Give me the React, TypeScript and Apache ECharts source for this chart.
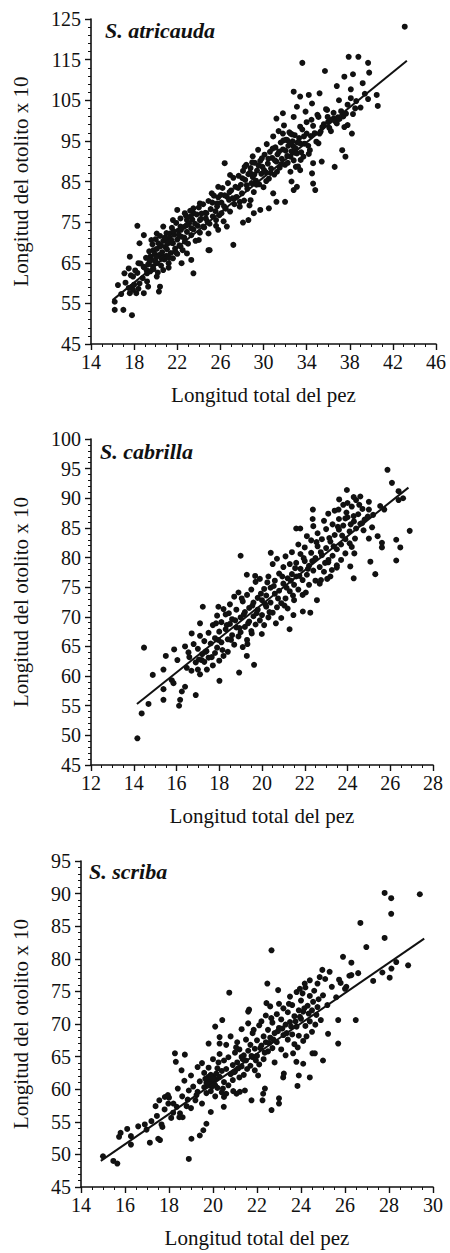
import React, { useEffect, useRef } from "react";
import * as echarts from "echarts";

// ---------- DATA ----------
const speciesNames = ["S. atricauda", "S. cabrilla", "S. scriba"];
const xAxisTitle = "Longitud total del pez";
const yAxisTitle = "Longitud del otolito x 10";

// S. atricauda points [total length, otolith length x 10]
const atricaudaPts: number[][] = [
  [43.1, 123.1], [37.9, 115.7], [38.8, 115.7], [33.6, 114.2], [35.7, 112.2], [39.7, 114.2], [39.8, 111.8],
  [38.3, 111.4], [39.2, 109.2], [37.5, 110.8], [36.8, 108.5], [38.1, 107.7], [40.5, 106.3], [39.7, 105.3],
  [40.6, 103.6], [32.8, 107.1], [33.4, 105.9], [34.2, 106.3], [35.2, 106.7], [34.5, 104.2], [35.9, 102.6],
  [37.0, 105.0], [38.1, 105.5], [38.5, 103.0], [33.1, 103.4], [33.9, 102.2], [35.0, 101.4], [36.5, 100.5],
  [37.4, 101.0], [36.0, 99.7], [36.8, 99.3], [37.8, 98.9], [38.2, 96.8], [37.3, 92.7], [37.6, 91.1],
  [36.6, 88.6], [35.4, 89.9], [34.6, 89.5], [34.5, 87.0], [34.6, 84.5], [34.8, 82.9], [35.1, 94.4],
  [34.3, 92.7], [34.0, 96.8], [35.2, 96.8], [33.4, 98.5], [32.8, 100.9], [31.2, 100.5], [31.8, 101.8],
  [32.5, 96.8], [31.8, 96.8], [32.2, 95.2], [32.8, 93.6], [33.4, 94.4], [33.1, 91.9], [33.7, 91.1],
  [32.5, 91.1], [33.0, 88.6], [33.4, 87.8], [32.6, 85.0], [33.1, 83.7], [32.8, 82.9], [32.0, 80.0],
  [31.2, 80.0], [30.9, 82.1], [30.5, 78.4], [28.1, 74.9], [28.6, 75.5], [27.2, 69.4], [29.7, 78.0],
  [29.1, 77.2], [28.8, 80.4], [27.8, 80.0], [26.6, 81.3], [26.9, 86.6], [26.4, 89.5], [25.8, 83.7],
  [25.2, 82.1], [25.7, 79.6], [26.1, 77.2], [25.6, 75.5], [26.6, 73.9], [25.8, 73.1], [24.7, 77.2],
  [24.1, 79.6], [24.4, 73.9], [24.9, 72.2], [23.5, 77.2], [22.9, 75.5], [23.3, 73.5], [22.3, 73.9],
  [22.0, 78.0], [21.6, 75.5], [22.7, 77.2], [23.5, 78.4], [24.1, 75.5], [24.0, 70.6], [24.9, 68.1],
  [23.3, 65.7], [23.5, 62.4], [22.4, 64.9], [22.9, 67.3], [22.3, 69.0], [21.6, 69.8], [21.0, 70.6],
  [21.3, 72.2], [20.7, 73.9], [20.1, 72.2], [18.3, 74.1], [18.9, 71.8], [18.5, 69.8], [19.6, 70.6],
  [20.4, 69.0], [19.8, 68.1], [19.5, 66.5], [20.1, 64.9], [20.7, 66.5], [21.2, 64.9], [20.7, 63.2],
  [20.1, 61.6], [20.4, 59.1], [20.3, 57.9], [19.2, 62.4], [18.9, 64.0], [18.4, 64.9], [18.5, 59.9],
  [18.9, 57.5], [19.3, 59.1], [17.9, 61.6], [17.6, 66.5], [17.5, 63.6], [17.8, 59.1], [17.6, 57.5],
  [17.9, 58.3], [18.2, 57.5], [16.5, 59.5], [16.2, 55.4], [16.2, 53.4], [17.0, 53.4], [17.8, 52.1],
  [25.0, 68.1], [17.2, 60.1], [17.5, 58.8], [17.7, 61.9], [18.0, 59.6], [18.1, 63.1], [18.4, 58.6],
  [16.8, 57.3], [17.1, 62.4],
  [18.3, 62.5], [18.6, 64.8], [18.8, 61.2], [18.9, 63.9], [19.1, 66.2], [19.2, 60.4], [19.3, 64.6],
  [19.4, 67.8], [19.5, 62.9], [19.6, 65.7], [19.7, 69.5], [19.8, 63.4], [19.9, 67.1], [20.0, 70.8],
  [20.0, 65.2], [20.1, 68.4], [20.2, 62.6], [20.3, 66.9], [20.4, 71.6], [20.5, 69.2], [20.5, 64.3],
  [20.6, 67.6], [20.7, 70.4], [20.8, 65.8], [20.9, 68.9], [21.0, 72.3], [21.0, 66.7], [21.1, 69.7],
  [21.2, 63.8], [21.3, 71.1], [21.4, 67.4], [21.5, 73.6], [21.5, 69.9], [21.6, 66.1], [21.7, 71.9],
  [21.8, 68.5], [21.9, 74.8], [22.0, 70.7], [22.0, 67.2], [22.1, 72.9], [22.2, 69.3], [22.3, 75.9],
  [22.4, 71.4], [22.5, 68.1], [22.6, 73.8], [22.7, 70.2], [22.8, 76.6], [22.9, 72.6], [23.0, 69.7],
  [23.1, 74.7], [23.2, 77.8], [23.3, 71.8], [23.4, 75.6], [23.5, 73.2], [23.7, 70.4], [23.8, 76.9],
  [23.9, 74.1], [24.0, 78.6], [24.1, 72.4], [24.2, 75.8], [24.4, 79.4], [24.5, 73.7], [24.6, 77.3],
  [24.8, 75.1], [24.9, 80.2], [25.0, 74.6], [25.1, 78.2], [25.3, 76.4], [25.4, 81.5], [25.6, 74.1],
  [25.7, 78.9], [25.8, 81.1], [25.9, 76.7], [26.1, 79.8], [26.2, 83.4], [26.3, 75.2], [26.4, 81.6],
  [26.5, 78.3], [26.7, 84.6], [26.8, 80.5], [26.9, 77.6], [27.0, 82.8], [27.2, 85.9], [27.3, 79.4],
  [27.4, 83.7], [27.5, 81.2], [27.7, 86.4], [27.8, 78.8], [27.9, 84.2], [28.0, 82.1], [28.1, 87.6],
  [28.2, 80.3], [28.3, 85.4], [28.4, 89.1], [28.5, 83.2], [28.6, 86.8], [28.7, 79.1], [28.8, 88.3],
  [28.9, 84.6], [29.0, 91.2], [29.0, 86.1], [29.1, 82.4], [29.2, 89.6], [29.3, 85.2], [29.4, 87.7],
  [29.5, 92.8], [29.6, 84.3], [29.7, 90.1], [29.8, 86.9], [29.9, 88.6], [30.0, 83.6], [30.1, 91.6],
  [30.2, 87.3], [30.3, 94.2], [30.4, 89.4], [30.5, 85.7], [30.6, 92.3], [30.7, 88.2], [30.8, 90.8],
  [30.9, 96.1], [31.0, 86.7], [31.1, 93.4], [31.2, 89.9], [31.3, 91.7], [31.4, 97.4], [31.5, 88.4],
  [31.6, 94.6], [31.7, 90.6], [31.8, 92.9], [31.9, 98.8], [32.0, 89.1], [32.1, 95.3], [32.2, 91.3],
  [32.3, 93.8], [32.4, 97.1], [32.5, 87.4], [32.6, 92.4], [32.7, 94.9], [32.8, 90.2], [32.9, 96.4],
  [33.0, 93.1], [33.2, 88.7], [33.3, 95.7], [33.5, 92.2], [33.6, 97.8], [33.8, 94.3], [34.0, 99.6],
  [34.2, 91.8], [34.4, 96.2], [34.6, 98.7], [34.9, 94.8], [35.1, 100.9], [35.3, 97.3], [35.6, 99.1],
  [35.8, 102.8], [36.1, 98.2], [36.3, 100.2], [36.5, 101.9], [36.7, 99.7], [36.9, 100.8], [37.2, 102.3],
  [37.5, 98.4], [37.8, 103.9], [38.3, 101.6], [38.6, 104.8], [39.0, 103.2], [39.4, 106.6],
  [19.15, 63.2], [19.45, 65.3], [19.75, 64.1], [20.05, 66.3], [20.25, 69.8], [20.55, 66.0], [20.85, 71.2],
  [21.05, 68.3], [21.25, 66.2], [21.45, 70.6], [21.65, 72.8], [21.85, 67.6], [22.15, 71.8], [22.35, 73.1],
  [22.65, 71.2], [22.85, 74.2], [23.25, 76.4], [23.65, 74.6], [24.25, 77.1], [24.65, 75.9], [25.25, 79.8],
  [25.55, 77.7], [26.05, 81.7], [26.35, 78.9], [26.85, 82.4], [27.15, 80.9], [27.65, 83.4], [28.05, 85.8],
  [28.25, 88.6], [28.45, 84.1], [28.75, 87.2], [28.95, 89.7], [29.15, 86.7], [29.35, 84.2], [29.55, 88.9],
  [29.85, 90.7], [30.05, 87.8], [30.25, 85.1], [30.45, 90.6], [30.65, 87.1], [30.85, 93.1], [31.05, 90.2],
  [31.25, 87.4], [31.45, 92.4], [31.65, 89.3], [31.85, 95.1], [32.05, 92.6], [32.25, 89.6], [32.45, 94.4],
  [32.65, 96.6], [32.85, 92.1], [33.15, 94.6], [33.45, 90.3], [33.75, 96.1], [34.15, 93.8], [34.45, 100.2],
  [34.75, 96.9], [35.45, 98.4], [35.95, 100.9], [36.25, 97.4], [37.05, 100.4], [37.65, 101.7],
];

// S. cabrilla points
const cabrillaPts: number[][] = [
  [14.17, 49.5], [14.37, 53.7], [14.48, 64.8], [14.69, 55.3], [14.89, 60.2], [15.39, 56.0], [15.39, 57.8],
  [15.5, 63.4], [15.39, 61.1], [15.78, 59.3], [15.86, 58.8], [15.89, 64.5], [16.04, 62.7], [16.12, 55.0],
  [16.17, 56.0], [16.25, 57.4], [16.4, 58.2], [16.48, 61.4], [16.4, 65.0], [16.56, 64.0], [16.9, 56.8],
  [16.71, 67.2], [17.1, 60.3], [17.18, 62.7], [17.23, 71.7], [17.1, 68.9], [17.42, 61.1], [18.01, 59.2],
  [17.96, 71.7], [18.93, 60.6], [19.0, 80.3], [19.29, 77.1], [19.68, 76.9], [19.63, 61.9], [19.29, 63.4],
  [19.32, 65.4], [19.52, 67.2], [19.99, 67.1], [20.41, 80.8], [21.29, 67.9], [21.47, 70.3], [21.91, 70.9],
  [22.26, 70.7], [22.57, 72.8], [21.6, 84.9], [21.79, 84.9], [22.37, 86.5], [22.38, 88.1], [23.58, 88.1],
  [23.61, 89.8], [23.97, 91.4], [24.29, 90.2], [24.6, 90.3], [24.0, 89.2], [24.1, 82.4], [24.13, 78.5],
  [24.32, 80.7], [24.29, 76.5], [25.0, 83.2], [25.07, 79.3], [25.3, 77.2], [25.41, 83.6], [25.61, 81.7],
  [25.61, 82.5], [25.53, 88.7], [25.72, 88.1], [25.87, 94.8], [26.08, 92.6], [26.28, 83.0], [26.28, 79.5],
  [26.47, 81.7], [26.39, 91.2], [26.6, 90.0], [26.39, 89.7], [26.91, 84.5], [24.68, 85.8], [25.0, 89.4],
  [24.29, 87.0], [23.9, 86.6], [23.5, 78.7], [23.27, 77.9], [23.11, 79.6], [22.76, 76.2],
  [16.6, 63.2], [16.7, 60.9], [16.8, 65.4], [16.9, 62.3], [17.0, 64.6], [17.0, 61.1], [17.1, 66.8],
  [17.2, 63.7], [17.3, 65.9], [17.3, 62.4], [17.4, 64.2], [17.5, 67.3], [17.5, 63.1], [17.6, 65.5],
  [17.7, 68.6], [17.7, 61.8], [17.8, 66.4], [17.8, 63.9], [17.9, 70.2], [17.9, 64.8], [18.0, 67.5],
  [18.0, 62.6], [18.1, 69.1], [18.1, 65.7], [18.2, 71.3], [18.2, 63.4], [18.3, 67.9], [18.3, 70.4],
  [18.4, 66.2], [18.4, 64.1], [18.5, 68.8], [18.5, 72.1], [18.6, 66.9], [18.6, 69.6], [18.7, 73.4],
  [18.7, 65.3], [18.8, 68.2], [18.8, 71.2], [18.9, 66.7], [18.9, 74.1], [19.0, 69.9], [19.0, 67.4],
  [19.1, 72.6], [19.1, 64.9], [19.2, 70.8], [19.2, 68.3], [19.3, 73.7], [19.3, 66.1], [19.4, 71.5],
  [19.4, 69.2], [19.5, 74.6], [19.5, 67.6], [19.6, 72.4], [19.6, 70.1], [19.7, 75.9], [19.7, 68.7],
  [19.8, 73.2], [19.8, 71.2], [19.9, 69.4], [19.9, 76.4], [20.0, 72.8], [20.0, 70.3], [20.1, 74.7],
  [20.1, 68.6], [20.2, 73.6], [20.2, 71.7], [20.3, 76.8], [20.3, 69.9], [20.4, 74.9], [20.4, 72.4],
  [20.5, 78.9], [20.5, 70.7], [20.6, 73.9], [20.6, 76.1], [20.7, 71.6], [20.7, 79.8], [20.8, 74.4],
  [20.8, 77.3], [20.9, 72.3], [20.9, 69.8], [21.0, 75.6], [21.0, 78.4], [21.1, 73.1], [21.1, 80.2],
  [21.2, 76.5], [21.2, 71.4], [21.3, 78.9], [21.3, 74.3], [21.4, 77.2], [21.4, 80.9], [21.5, 75.4],
  [21.5, 72.8], [21.6, 79.1], [21.6, 76.8], [21.7, 82.2], [21.7, 74.6], [21.8, 78.1], [21.8, 80.6],
  [21.9, 76.2], [21.9, 73.7], [22.0, 79.4], [22.0, 81.7], [22.1, 77.1], [22.1, 83.6], [22.2, 78.6],
  [22.2, 75.4], [22.3, 80.8], [22.3, 82.9], [22.4, 77.8], [22.4, 85.3], [22.5, 79.9], [22.5, 76.1],
  [22.6, 81.9], [22.6, 84.1], [22.7, 78.4], [22.7, 75.6], [22.8, 83.1], [22.8, 80.4], [22.9, 86.2],
  [22.9, 77.6], [23.0, 81.6], [23.0, 84.8], [23.1, 79.2], [23.1, 87.4], [23.2, 82.7], [23.2, 76.8],
  [23.3, 85.6], [23.3, 80.3], [23.4, 83.8], [23.4, 87.9], [23.5, 81.4], [23.5, 78.3], [23.6, 84.7],
  [23.6, 86.5], [23.7, 82.2], [23.7, 79.6], [23.8, 88.9], [23.8, 85.4], [23.9, 83.1], [23.9, 80.7],
  [24.0, 86.8], [24.1, 84.4], [24.2, 88.6], [24.2, 81.8], [24.3, 86.1], [24.4, 89.7], [24.4, 84.9],
  [24.5, 87.3], [24.6, 85.7], [24.7, 88.2], [24.8, 86.4], [25.0, 88.1], [25.2, 87.2],
  [17.05, 62.8], [17.35, 64.1], [17.65, 63.2], [17.95, 66.1], [18.15, 64.4], [18.35, 68.6], [18.55, 66.1],
  [18.75, 69.4], [18.95, 68.1], [19.15, 70.4], [19.35, 68.9], [19.55, 71.9], [19.75, 70.6], [19.95, 73.9],
  [20.15, 72.1], [20.35, 70.8], [20.55, 75.2], [20.75, 73.1], [20.95, 76.8], [21.15, 74.9], [21.35, 76.1],
  [21.55, 78.2], [21.75, 76.9], [21.95, 79.9], [22.15, 78.1], [22.35, 79.4], [22.55, 82.6], [22.75, 80.9],
  [22.95, 79.1], [23.15, 83.3], [23.35, 81.9], [23.55, 85.2], [23.75, 83.7], [23.95, 87.6], [24.15, 85.6],
  [24.35, 83.2], [24.55, 88.9], [24.75, 84.6], [24.95, 86.9], [25.15, 85.1], [21.05, 71.9], [20.25, 75.8],
  [19.05, 73.1], [18.45, 70.6], [17.85, 68.9], [22.05, 74.1], [23.05, 76.4], [21.45, 73.6], [20.65, 68.9],
];

// S. scriba points
const scribaPts: number[][] = [
  [27.8, 90.1], [28.1, 89.3], [29.4, 89.9], [28.1, 86.9], [26.7, 85.5], [27.8, 83.2], [26.97, 81.8],
  [22.66, 81.3], [25.91, 80.3], [26.29, 79.4], [28.87, 79.0], [28.33, 79.5], [28.11, 78.5], [28.03, 77.1],
  [27.7, 77.9], [27.28, 76.6], [26.6, 77.8], [26.29, 77.5], [25.73, 76.8], [26.06, 75.7], [24.97, 78.3],
  [25.3, 78.0], [24.85, 77.2], [24.75, 76.2], [26.49, 70.6], [25.69, 70.6], [25.69, 67.0], [25.23, 68.5],
  [25.0, 64.4], [20.74, 74.8], [22.47, 76.2], [21.64, 72.2], [22.43, 73.2], [18.27, 65.5], [18.72, 65.3],
  [18.31, 64.2], [18.57, 62.9], [19.8, 67.0], [20.42, 70.6], [18.9, 49.3], [19.02, 52.4], [19.4, 52.9],
  [19.56, 53.7], [19.7, 54.7], [19.9, 56.5], [20.49, 57.3], [15.0, 49.7], [15.47, 49.0], [15.65, 48.6],
  [15.8, 53.3], [15.73, 52.7], [16.27, 52.8], [16.27, 51.5], [17.13, 51.8], [17.51, 52.4], [17.59, 52.2],
  [16.98, 53.8], [17.66, 54.6], [17.7, 54.2], [17.39, 57.4], [17.56, 58.3], [17.81, 58.8], [17.97, 57.8],
  [18.19, 56.4], [18.62, 55.7], [18.47, 55.7], [21.3, 64.95], [21.75, 58.3], [22.25, 58.3], [22.66, 56.8],
  [23.0, 57.8], [23.0, 58.6], [22.28, 59.3], [22.36, 60.1], [23.19, 61.8], [23.22, 62.4], [23.84, 60.5],
  [24.4, 61.8], [23.9, 62.1], [23.79, 64.2], [24.1, 63.9], [24.52, 65.5], [24.63, 65.5], [23.64, 65.5],
  [21.22, 59.6], [21.45, 59.8], [20.92, 59.7], [21.07, 59.3], [20.5, 58.8], [20.6, 59.3],
  [20.1, 69.6], [20.3, 68.0], [20.3, 67.0], [21.6, 71.9], [22.96, 75.2], [23.95, 75.4], [24.17, 76.2],
  [24.4, 76.7], [24.07, 74.7], [16.1, 53.9], [16.6, 54.3], [17.2, 55.1],
  [17.8, 56.9], [18.0, 58.7], [18.1, 55.6], [18.2, 57.8], [18.4, 60.1], [18.5, 56.3], [18.6, 58.9],
  [18.7, 61.3], [18.8, 57.4], [18.9, 59.8], [19.0, 62.1], [19.0, 57.1], [19.1, 60.4], [19.2, 58.3],
  [19.3, 63.4], [19.3, 59.6], [19.4, 61.2], [19.5, 57.8], [19.5, 64.0], [19.6, 60.3], [19.6, 62.5],
  [19.7, 59.4], [19.7, 61.0], [19.8, 60.6], [19.8, 63.3], [19.9, 61.4], [19.9, 59.7], [20.0, 62.0],
  [20.0, 60.9], [20.0, 64.6], [20.1, 61.6], [20.1, 58.9], [20.2, 63.2], [20.2, 60.2], [20.3, 65.4],
  [20.3, 61.9], [20.4, 62.8], [20.4, 59.5], [20.5, 64.4], [20.5, 61.1], [20.6, 66.8], [20.6, 63.1],
  [20.7, 60.6], [20.7, 64.9], [20.8, 62.3], [20.8, 68.1], [20.9, 63.7], [20.9, 61.4], [21.0, 65.6],
  [21.0, 62.7], [21.1, 67.2], [21.1, 64.1], [21.2, 61.8], [21.2, 66.1], [21.3, 63.5], [21.3, 69.2],
  [21.4, 65.2], [21.4, 62.2], [21.5, 67.6], [21.5, 64.4], [21.6, 65.9], [21.6, 70.1], [21.7, 63.6],
  [21.7, 66.8], [21.8, 64.9], [21.8, 68.6], [21.9, 66.2], [21.9, 62.9], [22.0, 67.5], [22.0, 65.1],
  [22.1, 69.8], [22.1, 63.8], [22.2, 66.7], [22.2, 70.4], [22.3, 68.1], [22.3, 64.6], [22.4, 67.2],
  [22.4, 71.3], [22.5, 65.8], [22.5, 69.1], [22.6, 67.9], [22.6, 72.7], [22.7, 66.3], [22.7, 70.2],
  [22.8, 68.6], [22.8, 64.1], [22.9, 71.5], [22.9, 67.2], [23.0, 69.4], [23.0, 73.1], [23.1, 66.1],
  [23.1, 70.7], [23.2, 68.3], [23.2, 72.4], [23.3, 65.2], [23.3, 69.9], [23.4, 71.8], [23.4, 67.6],
  [23.5, 74.2], [23.5, 70.3], [23.6, 68.4], [23.6, 72.9], [23.7, 66.9], [23.7, 71.2], [23.8, 69.6],
  [23.8, 74.9], [23.9, 72.1], [23.9, 68.2], [24.0, 70.8], [24.0, 73.6], [24.1, 67.4], [24.1, 71.9],
  [24.2, 75.6], [24.2, 69.7], [24.3, 72.8], [24.4, 70.4], [24.4, 74.3], [24.5, 68.8], [24.5, 72.1],
  [24.6, 75.1], [24.7, 71.4], [24.8, 73.8], [24.9, 70.6], [25.0, 74.4], [25.1, 76.9], [25.2, 72.9],
  [25.4, 75.7], [25.6, 74.1], [25.8, 76.3], [26.0, 75.4], [26.2, 77.4],
  [19.75, 60.9], [19.85, 61.6], [19.95, 60.4], [20.05, 61.3], [19.9, 62.2], [20.1, 60.6], [19.8, 61.9],
  [20.0, 61.6], [20.15, 62.4], [19.65, 61.6], [20.45, 60.1], [20.95, 62.6], [21.15, 63.2], [21.35, 64.6],
  [21.55, 63.1], [21.75, 65.1], [21.95, 64.4], [22.15, 66.3], [22.35, 65.6], [22.55, 67.1], [22.75, 67.6],
  [22.95, 68.9], [23.15, 69.3], [23.35, 68.6], [23.55, 69.6], [23.75, 70.4], [23.95, 71.1], [24.15, 72.4],
  [24.35, 71.6], [24.55, 73.4], [24.75, 72.6], [19.25, 59.1], [18.85, 58.4], [18.35, 57.3], [17.95, 59.1],
  [17.45, 55.9], [16.9, 54.6], [21.85, 69.1], [22.65, 70.9], [23.45, 73.1], [22.05, 62.1], [21.05, 66.4],
  [20.25, 64.1], [23.85, 66.4], [24.25, 68.1], [24.65, 69.9],
];

// Regression line end points [x, y]
const atricaudaFit: number[][] = [[16.0, 55.8], [43.3, 114.7]];
const cabrillaFit: number[][] = [[14.15, 55.3], [26.85, 91.8]];
const scribaFit: number[][] = [[14.9, 49.0], [29.6, 83.1]];

// Axis ranges [min, max, interval]
const xRanges: number[][] = [[14, 46, 4], [12, 28, 2], [14, 30, 2]];
const yRanges: number[][] = [[45, 125, 10], [45, 100, 5], [45, 95, 5]];

// ---------- LAYOUT ----------
const grids = [
  { left: 91, top: 19, width: 345, height: 325 },
  { left: 91, top: 439, width: 342, height: 326 },
  { left: 81, top: 861, width: 352, height: 326 },
];
const yNameGaps = [60, 60, 50];
const titlePos = [
  { left: 105, top: 19 },
  { left: 100, top: 440 },
  { left: 89, top: 860 },
];
const xMinorSplit = [4, 4, 4];
const yMinorSplit = [5, 5, 5];

const FONT = "Liberation Serif";
const INK = "#111111";

export default function App() {
  const ref = useRef<HTMLDivElement>(null);

  useEffect(() => {
    if (!ref.current) return;
    const chart = echarts.init(ref.current, undefined, { renderer: "svg" });

    const ptsAll = [atricaudaPts, cabrillaPts, scribaPts];
    const fits = [atricaudaFit, cabrillaFit, scribaFit];

    const xAxis = grids.map((_, i) => ({
      type: "value",
      gridIndex: i,
      min: xRanges[i][0],
      max: xRanges[i][1],
      interval: xRanges[i][2],
      name: xAxisTitle,
      nameLocation: "middle",
      nameGap: 40,
      nameTextStyle: { fontFamily: FONT, fontSize: 21, color: INK },
      axisLine: { show: true, lineStyle: { color: INK, width: 1.6 } },
      axisTick: { show: true, length: 6, lineStyle: { color: INK, width: 1.4 } },
      minorTick: { show: true, splitNumber: xMinorSplit[i], length: 3, lineStyle: { color: INK, width: 1 } },
      axisLabel: { fontFamily: FONT, fontSize: 20, color: INK, margin: 8, showMinLabel: true, showMaxLabel: true },
      splitLine: { show: false },
    }));

    const yAxis = grids.map((_, i) => ({
      type: "value",
      gridIndex: i,
      min: yRanges[i][0],
      max: yRanges[i][1],
      interval: yRanges[i][2],
      name: yAxisTitle,
      nameLocation: "middle",
      nameGap: yNameGaps[i],
      nameTextStyle: { fontFamily: FONT, fontSize: 21, color: INK },
      axisLine: { show: true, lineStyle: { color: INK, width: 1.6 } },
      axisTick: { show: true, length: 6, lineStyle: { color: INK, width: 1.4 } },
      minorTick: { show: true, splitNumber: yMinorSplit[i], length: 3, lineStyle: { color: INK, width: 1 } },
      axisLabel: { fontFamily: FONT, fontSize: 20, color: INK, margin: 10, showMinLabel: true, showMaxLabel: true },
      splitLine: { show: false },
    }));

    const series: any[] = [];
    ptsAll.forEach((pts, i) => {
      series.push({
        type: "scatter",
        xAxisIndex: i,
        yAxisIndex: i,
        data: pts,
        symbol: "circle",
        symbolSize: 6,
        itemStyle: { color: INK, opacity: 1 },
        silent: true,
      });
      series.push({
        type: "line",
        xAxisIndex: i,
        yAxisIndex: i,
        data: fits[i],
        symbol: "none",
        lineStyle: { color: INK, width: 2 },
        silent: true,
      });
    });

    chart.setOption({
      animation: false,
      backgroundColor: "#ffffff",
      title: speciesNames.map((t, i) => ({
        text: t,
        left: titlePos[i].left,
        top: titlePos[i].top,
        padding: 0,
        textStyle: { fontFamily: FONT, fontStyle: "italic", fontWeight: "bold", fontSize: 22, color: INK },
      })),
      grid: grids,
      xAxis,
      yAxis,
      series,
    });

    return () => chart.dispose();
  }, []);

  return (
    <div
      ref={ref}
      style={{ position: "absolute", left: 0, top: 0, width: 450, height: 1253, background: "#fff" }}
    />
  );
}
